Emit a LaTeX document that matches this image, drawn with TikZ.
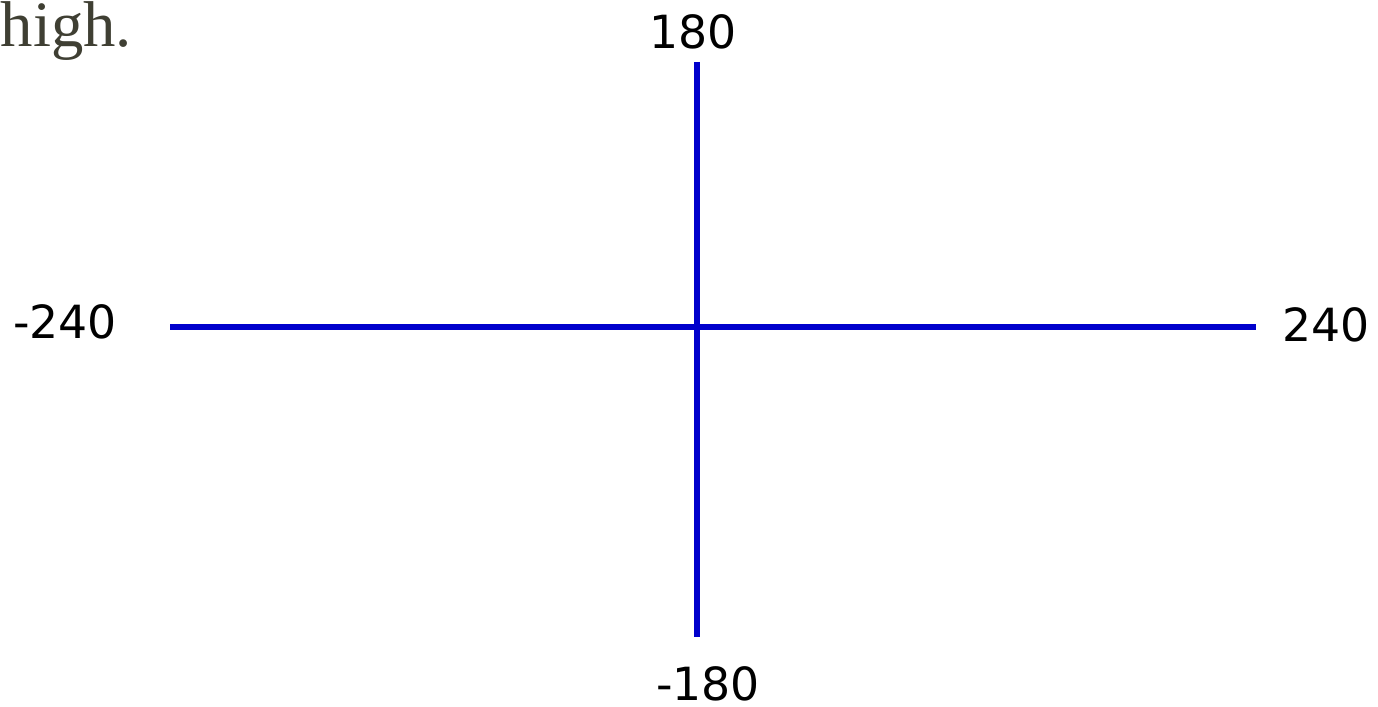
\documentclass[tikz,border=0pt]{standalone}
\usepackage{fontspec}
\setmainfont{Liberation Serif}
\newfontfamily\lblfont{DejaVu Sans}
\usepackage{tikz}
\usetikzlibrary{positioning}
\definecolor{axisblue}{HTML}{0000CC}
\definecolor{olivetext}{HTML}{3F3F33}

\begin{document}
\begin{tikzpicture}[x=0.01cm,y=-0.01cm]
\tikzstyle{axis}=[axisblue,line width=1.7pt]
\tikzstyle{lbl}=[font=\lblfont\fontsize{13}{15}\selectfont,inner sep=0pt]
\useasboundingbox (0,0) rectangle (1378,707);
\node[anchor=base west,inner sep=0pt,olivetext,font=\fontsize{18.4}{21}\selectfont] (high) at (0,47) {high.};
\coordinate (xmin) at (170,327);
\coordinate (xmax) at (1256,327);
\coordinate (ymax) at (697,62);
\coordinate (ymin) at (697,637);
\draw[axis] (xmin) -- (xmax);
\draw[axis] (ymax) -- (ymin);
\node[lbl] (top) at (693,32) {180};
\node[lbl] (bot) at (708,684) {-180};
\node[lbl] (left) at (65,322) {-240};
\node[lbl] (right) at (1326,325) {240};
\end{tikzpicture}
\end{document}
